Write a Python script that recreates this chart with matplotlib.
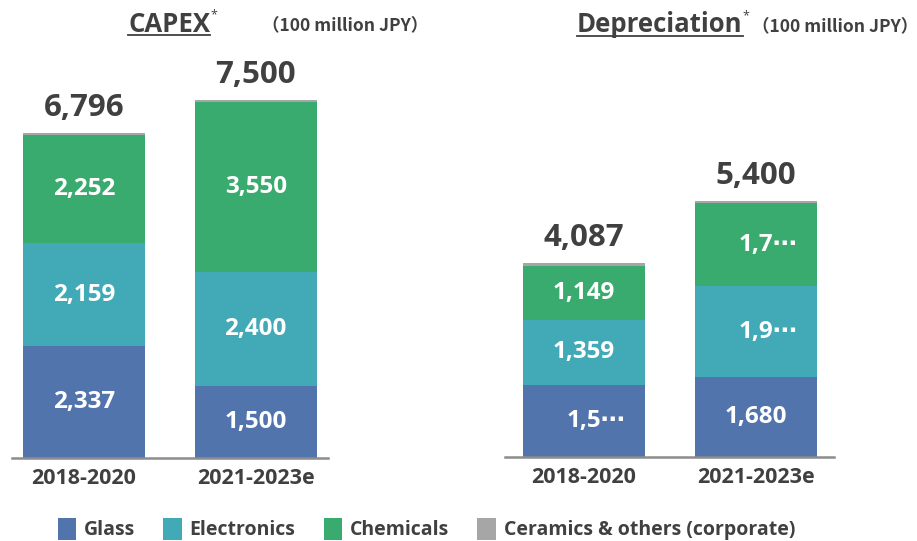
import matplotlib
matplotlib.use('Agg')
import matplotlib.pyplot as plt
from matplotlib.patches import Patch
from matplotlib.lines import Line2D

plt.rcParams.update({
    'font.family': ['Open Sans', 'DejaVu Sans'],
    'axes.unicode_minus': False,
})

# data (100 million JPY)
periods = ['2018-2020', '2021-2023e']
segments = ['Glass', 'Electronics', 'Chemicals', 'Ceramics & others (corporate)']

capex_glass = [2337, 1500]
capex_elec = [2159, 2400]
capex_chem = [2252, 3550]
capex_other = [48, 50]
capex_total = [6796, 7500]

dep_glass = [1529, 1680]
dep_elec = [1359, 1920]
dep_chem = [1149, 1750]
dep_other = [50, 50]
dep_total = [4087, 5400]

# labels that the source shows cut short ("1,5⋯")
dep_cut = {'Glass': [True, False], 'Electronics': [False, True], 'Chemicals': [False, True]}

COLORS = ['#5174AD', '#42A9B7', '#3AAB6E', '#A6A6A6']
DARK = '#404040'
W, H = 917, 541


def draw_panel(ax, series, totals, cut=None):
    x = list(range(len(periods)))
    bottom = [0] * len(periods)
    for name, vals, col in zip(segments, series, COLORS):
        ax.bar(x, vals, width=0.71, bottom=bottom, color=col, edgecolor='none')
        if name != segments[-1]:
            for i, v in enumerate(vals):
                txt = f'{v:,}'
                dx = 0
                if cut and cut.get(name, [False] * 2)[i]:
                    txt = txt[:3] + '⋯'
                    dx = 0.07
                ax.text(i + dx, bottom[i] + v / 2, txt, ha='center', va='center',
                        color='white', fontsize=17.5, fontweight='bold')
        bottom = [b + v for b, v in zip(bottom, vals)]
    for i, t in enumerate(totals):
        ax.annotate(f'{t:,}', (i, bottom[i]), xytext=(0, 18), textcoords='offset points',
                    ha='center', va='center', fontsize=22.5, fontweight='bold', color=DARK)
    ax.set_ylim(0, 8000)
    ax.set_xticks(x)
    ax.set_xticklabels(periods, fontsize=15.5, fontweight='bold', color=DARK)
    ax.tick_params(axis='x', length=0, pad=7)
    ax.set_yticks([])
    for s in ['top', 'left', 'right']:
        ax.spines[s].set_visible(False)
    ax.spines['bottom'].set_color('#8C8C8C')
    ax.spines['bottom'].set_linewidth(1.8)


fig = plt.figure(figsize=(W / 100, H / 100), dpi=100)
ax1 = fig.add_axes([12 / W, (H - 458) / H, 316 / W, 8000 * 0.0478 / H])
ax2 = fig.add_axes([505 / W, (H - 457) / H, 329 / W, 8000 * 0.0474 / H])

draw_panel(ax1, [capex_glass, capex_elec, capex_chem, capex_other], capex_total)
ax1.set_xlim(-0.419, 1.421)
draw_panel(ax2, [dep_glass, dep_elec, dep_chem, dep_other], dep_total, cut=dep_cut)
ax2.set_xlim(-0.460, 1.456)

# titles with underline
renderer = fig.canvas.get_renderer()


def title(x_px, y_px, main, unit_x_px):
    t = fig.text(x_px / W, 1 - y_px / H, main, fontsize=18.5, fontweight='bold',
                 color=DARK, ha='left', va='center')
    bb = t.get_window_extent(renderer)
    fig.add_artist(Line2D([bb.x0 / W, bb.x1 / W], [(H - y_px - 11) / H] * 2,
                          color=DARK, lw=1.3))
    fig.text(bb.x1 / W, 1 - (y_px - 9) / H, '*', fontsize=9, color=DARK,
             ha='left', va='center')
    fig.text(unit_x_px / W, 1 - (y_px + 1) / H, '（100 million JPY）', fontsize=12.6,
             fontweight='bold', color=DARK, ha='left', va='center',
             family=['Noto Sans CJK JP', 'DejaVu Sans'])


title(128, 24, 'CAPEX', 262)
title(577, 25, 'Depreciation', 752)

handles = [Patch(facecolor=c, edgecolor='none') for c in COLORS]
fig.legend(handles, segments, loc='center left', bbox_to_anchor=(50 / W, 1 - 529 / H),
           ncol=4, frameon=False, handlelength=0.95, handleheight=1.4,
           handletextpad=0.4, columnspacing=1.45, borderaxespad=0,
           prop={'size': 14, 'weight': 'bold'}, labelcolor=DARK)

fig.savefig('out.png', dpi=100)
